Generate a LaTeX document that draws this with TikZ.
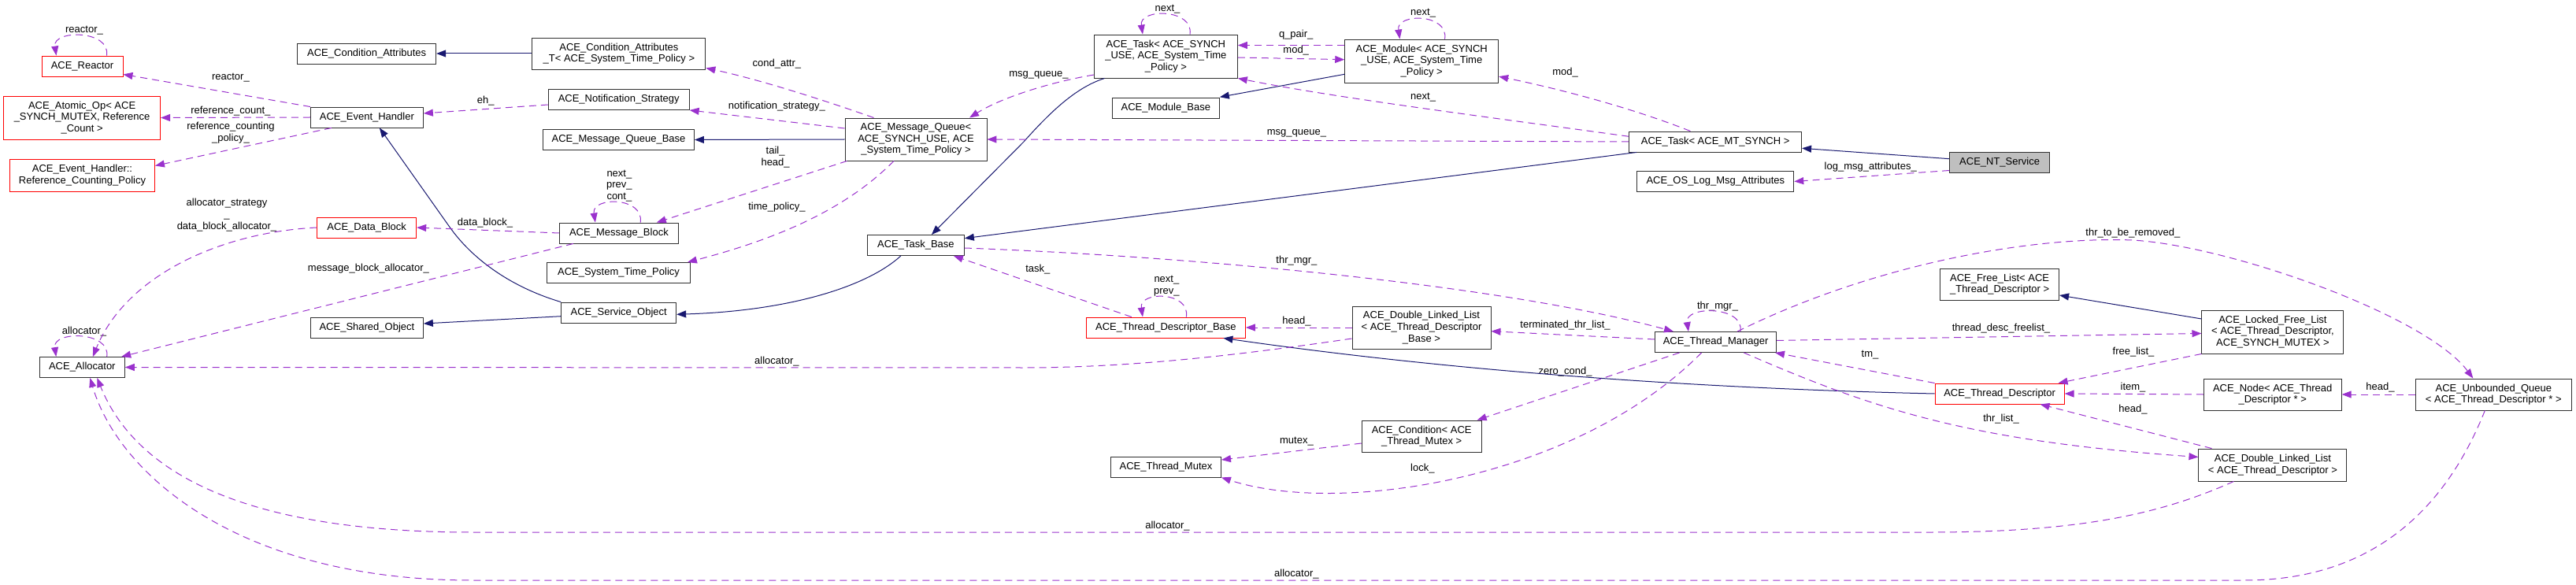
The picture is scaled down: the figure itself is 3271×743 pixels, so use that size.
\documentclass[tikz,border=0pt]{standalone}
\usepackage{fontspec}
\setmainfont{Liberation Sans}
\usepackage{tikz}
\usetikzlibrary{arrows.meta}

\definecolor{bleuherit}{HTML}{191970}
\definecolor{violetmembre}{HTML}{9A32CD}
\definecolor{rougeclasse}{HTML}{FF0000}
\definecolor{grisclasse}{HTML}{BFBFBF}
\definecolor{bordclasse}{HTML}{303030}

\begin{document}
\begin{tikzpicture}[x=1pt, y=-1pt, font=\fontsize{13}{14.7}\selectfont,
    classe/.style={draw=bordclasse, line width=0.9pt, inner xsep=2pt, inner ysep=6pt, minimum height=26pt, align=center, fill=white},
    classerouge/.style={classe, draw=rougeclasse},
    classegrise/.style={classe, fill=grisclasse},
    etiquette/.style={inner sep=0pt, align=center},
    herit/.style={draw=bleuherit, line width=1pt, -{Triangle[length=12pt, width=9pt]}},
    membre/.style={draw=violetmembre, line width=1pt, dash pattern=on 9pt off 6pt, -{Triangle[length=12pt, width=9pt]}}]
    \useasboundingbox (0,0) rectangle (3271,743);
    % Classes
    \node[classerouge, minimum width=103pt] at (104.5,84) (reactor) {ACE\_Reactor};
    \node[classerouge, minimum width=199pt, minimum height=55pt] at (104.1,149.5) (atomicop) {ACE\_Atomic\_Op< ACE\\\_SYNCH\_MUTEX, Reference\\\_Count >};
    \node[classerouge, minimum width=184pt, minimum height=41pt] at (104.5,222.5) (refpolicy) {ACE\_Event\_Handler::\\Reference\_Counting\_Policy};
    \node[classe, minimum width=176pt] at (465.7,68) (condattr) {ACE\_Condition\_Attributes};
    \node[classe, minimum width=143pt] at (465.9,149) (evhandler) {ACE\_Event\_Handler};
    \node[classerouge, minimum width=126pt] at (465.7,289) (datablock) {ACE\_Data\_Block};
    \node[classe, minimum width=108pt] at (104.3,466.5) (allocator) {ACE\_Allocator};
    \node[classe, minimum width=143pt] at (465.9,416) (sharedobj) {ACE\_Shared\_Object};
    \node[classe, minimum width=220pt, minimum height=40pt] at (785.9,68) (condattrT) {ACE\_Condition\_Attributes\\\_T< ACE\_System\_Time\_Policy >};
    \node[classe, minimum width=179pt] at (785.7,126.5) (notifstrat) {ACE\_Notification\_Strategy};
    \node[classe, minimum width=192pt] at (785.5,177.5) (mqbase) {ACE\_Message\_Queue\_Base};
    \node[classe, minimum width=151pt] at (785.9,296) (msgblock) {ACE\_Message\_Block};
    \node[classe, minimum width=182pt] at (785.5,346.5) (timepolicy) {ACE\_System\_Time\_Policy};
    \node[classe, minimum width=146pt] at (785.7,397) (serviceobj) {ACE\_Service\_Object};
    \node[classe, minimum width=180pt, minimum height=54pt] at (1163,177) (msgqueue) {ACE\_Message\_Queue<\\ACE\_SYNCH\_USE, ACE\\\_System\_Time\_Policy >};
    \node[classe, minimum width=123pt] at (1162.9,311.5) (taskbase) {ACE\_Task\_Base};
    \node[classe, minimum width=182pt, minimum height=55pt] at (1480.4,71.5) (task) {ACE\_Task< ACE\_SYNCH\\\_USE, ACE\_System\_Time\\\_Policy >};
    \node[classe, minimum width=136pt] at (1480.4,137) (modbase) {ACE\_Module\_Base};
    \node[classerouge, minimum width=202pt] at (1480.4,416) (tdbase) {ACE\_Thread\_Descriptor\_Base};
    \node[classe, minimum width=140pt] at (1480.5,593) (thrmutex) {ACE\_Thread\_Mutex};
    \node[classe, minimum width=195pt, minimum height=55pt] at (1805.2,77.5) (module) {ACE\_Module< ACE\_SYNCH\\\_USE, ACE\_System\_Time\\\_Policy >};
    \node[classe, minimum width=176pt, minimum height=54pt] at (1805,416) (dlltdbase) {ACE\_Double\_Linked\_List\\< ACE\_Thread\_Descriptor\\\_Base >};
    \node[classe, minimum width=152pt, minimum height=40pt] at (1805.2,554) (condition) {ACE\_Condition< ACE\\\_Thread\_Mutex >};
    \node[classe, minimum width=219pt] at (2178.1,180) (taskmt) {ACE\_Task< ACE\_MT\_SYNCH >};
    \node[classe, minimum width=199pt] at (2178.3,230.5) (oslog) {ACE\_OS\_Log\_Msg\_Attributes};
    \node[classe, minimum width=154pt] at (2178.6,434.5) (thrmgr) {ACE\_Thread\_Manager};
    \node[classegrise, minimum width=127pt] at (2539.1,206.5) (ntservice) {ACE\_NT\_Service};
    \node[classe, minimum width=151pt, minimum height=40pt] at (2539.1,361) (freelist) {ACE\_Free\_List< ACE\\\_Thread\_Descriptor >};
    \node[classerouge, minimum width=164pt] at (2539.1,500) (thrdesc) {ACE\_Thread\_Descriptor};
    \node[classe, minimum width=180pt, minimum height=55pt] at (2885.9,421.5) (lockedfl) {ACE\_Locked\_Free\_List\\< ACE\_Thread\_Descriptor,\\ACE\_SYNCH\_MUTEX >};
    \node[classe, minimum width=175pt, minimum height=40pt] at (2885.7,501) (tdnode) {ACE\_Node< ACE\_Thread\\\_Descriptor * >};
    \node[classe, minimum width=188pt, minimum height=41pt] at (2885.9,590.5) (dlltd) {ACE\_Double\_Linked\_List\\< ACE\_Thread\_Descriptor >};
    \node[classe, minimum width=198pt, minimum height=40pt] at (3166.3,501) (unbqueue) {ACE\_Unbounded\_Queue\\< ACE\_Thread\_Descriptor * >};
    % Etiquettes
    \node[etiquette] at (107,39) (lreactorself) {reactor\_};
    \node[etiquette] at (292.9,99) (lreactor) {reactor\_};
    \node[etiquette] at (292.9,141) (lrefcount) {reference\_count\_};
    \node[etiquette] at (292.9,168.5) (lrefpolicy) {reference\_counting\\\_policy\_};
    \node[etiquette] at (288,273) (ldballoc) {allocator\_strategy\\\_\\data\_block\_allocator\_};
    \node[etiquette] at (467.9,341) (lmballoc) {message\_block\_allocator\_};
    \node[etiquette] at (107,421) (lallocself) {allocator\_};
    \node[etiquette] at (616.8,128) (leh) {eh\_};
    \node[etiquette] at (616,283) (ldatablock) {data\_block\_};
    \node[etiquette] at (786.4,236) (lmbself) {next\_\\prev\_\\cont\_};
    \node[etiquette] at (986.4,81) (lcondattr) {cond\_attr\_};
    \node[etiquette] at (986.4,135) (lnotif) {notification\_strategy\_};
    \node[etiquette] at (984.6,199.5) (ltailhead) {tail\_\\head\_};
    \node[etiquette] at (986.4,263) (ltimepol) {time\_policy\_};
    \node[etiquette] at (986.4,459) (lalloc1) {allocator\_};
    \node[etiquette] at (1482.5,12) (ltaskself) {next\_};
    \node[etiquette] at (1318.9,95) (lmsgq1) {msg\_queue\_};
    \node[etiquette] at (1317.9,342) (ltask) {task\_};
    \node[etiquette] at (1481.4,363) (ltdself) {next\_\\prev\_};
    \node[etiquette] at (1482.5,668) (lalloc2) {allocator\_};
    \node[etiquette] at (1807.1,17) (lmodself) {next\_};
    \node[etiquette] at (1645.7,44) (lqpair) {q\_pair\_};
    \node[etiquette] at (1645.7,64) (lmod1) {mod\_};
    \node[etiquette] at (1987.5,92) (lmod2) {mod\_};
    \node[etiquette] at (1807.1,124) (lnext) {next\_};
    \node[etiquette] at (1646.4,169) (lmsgq2) {msg\_queue\_};
    \node[etiquette] at (1646.4,331) (lthrmgr) {thr\_mgr\_};
    \node[etiquette] at (1646.4,408) (lhead1) {head\_};
    \node[etiquette] at (1987.5,413) (lterm) {terminated\_thr\_list\_};
    \node[etiquette] at (1987.5,472) (lzerocond) {zero\_cond\_};
    \node[etiquette] at (1646.4,561) (lmutex) {mutex\_};
    \node[etiquette] at (1806.4,595) (llock) {lock\_};
    \node[etiquette] at (1646.4,729) (lalloc3) {allocator\_};
    \node[etiquette] at (2375.2,212) (llogmsg) {log\_msg\_attributes\_};
    \node[etiquette] at (2708.4,296) (lthrremoved) {thr\_to\_be\_removed\_};
    \node[etiquette] at (2181,389) (lthrmgrself) {thr\_mgr\_};
    \node[etiquette] at (2541,417) (lfreelistdesc) {thread\_desc\_freelist\_};
    \node[etiquette] at (2374.5,451) (ltm) {tm\_};
    \node[etiquette] at (2541,532) (lthrlist) {thr\_list\_};
    \node[etiquette] at (2709,447) (lfreelist) {free\_list\_};
    \node[etiquette] at (2708.5,492) (litem) {item\_};
    \node[etiquette] at (2708.5,520) (lhead2) {head\_};
    \node[etiquette] at (3022.4,492) (lhead3) {head\_};
    % Heritage
    \path (condattrT.west) edge[herit] (condattr.east);
    \draw[herit] (serviceobj.north west) .. controls (650,365) and (600,330) .. (570,287) -- ([xshift=16pt]evhandler.south);
    \path ([yshift=-4.7pt]serviceobj.west) edge[herit] ([yshift=5pt]sharedobj.east);
    \draw[herit] ([xshift=-19pt]taskbase.south) .. controls (1100,365) and (1000,395) .. ([yshift=-2.3pt]serviceobj.east);
    \path (msgqueue.west) edge[herit] (mqbase.east);
    \draw[herit] ([xshift=13.6pt]task.south west) .. controls (1370,110) and (1340,135) .. (1300,180) -- ([xshift=20pt]taskbase.north);
    \path ([yshift=-16.8pt]module.west) edge[herit] ([yshift=13.7pt]modbase.east);
    \path ([xshift=10pt]taskmt.south west) edge[herit] ([yshift=8.8pt]taskbase.east);
    \path ([yshift=4.8pt]ntservice.west) edge[herit] ([yshift=-8.3pt]taskmt.east);
    \draw[herit] (thrdesc.west) .. controls (2100,492) and (1800,465) .. ([xshift=-28.5pt]tdbase.south east);
    \path ([yshift=16.5pt]lockedfl.west) edge[herit] ([yshift=-14pt]freelist.east);
    % Membres
    \draw[membre] ([xshift=31pt]reactor.north) .. controls +(5,-33) and +(-5,-33) .. ([xshift=-33pt]reactor.north);
    \draw[membre] ([xshift=31.4pt]allocator.north) .. controls +(5,-33) and +(-5,-33) .. ([xshift=-33pt]allocator.north);
    \draw[membre] ([xshift=27.3pt]msgblock.north) .. controls +(5,-33) and +(-5,-33) .. ([xshift=-30pt]msgblock.north);
    \draw[membre] ([xshift=30.6pt]task.north) .. controls +(5,-33) and +(-5,-33) .. ([xshift=-29.4pt]task.north);
    \draw[membre] ([xshift=29.4pt]module.north) .. controls +(5,-33) and +(-5,-33) .. ([xshift=-27.7pt]module.north);
    \draw[membre] ([xshift=26pt]tdbase.north) .. controls +(5,-33) and +(-5,-33) .. ([xshift=-29.4pt]tdbase.north);
    \draw[membre] ([xshift=31.4pt]thrmgr.north) .. controls +(5,-33) and +(-5,-33) .. ([xshift=-34.6pt]thrmgr.north);
    \path (evhandler.north west) edge[membre] ([yshift=3pt]reactor.south east);
    \path (evhandler.west) edge[membre] (atomicop.east);
    \path ([xshift=27pt]evhandler.south west) edge[membre] ([yshift=12pt]refpolicy.east);
    \path ([yshift=-6.5pt]notifstrat.west) edge[membre] ([yshift=5pt]evhandler.east);
    \draw[membre] ([xshift=37pt]msgqueue.north west) .. controls (1040,125) and (960,100) .. ([yshift=2pt]condattrT.south east);
    \path ([yshift=14pt]msgqueue.west) edge[membre] (notifstrat.south east);
    \path ([xshift=3pt]msgqueue.south west) edge[membre] ([xshift=-28pt]msgblock.north east);
    \draw[membre] ([xshift=-28pt]msgqueue.south) .. controls (1080,260) and (1000,300) .. ([xshift=-4pt]timepolicy.north east);
    \path (msgblock.west) edge[membre] (datablock.east);
    \draw[membre] (datablock.west) .. controls (280,295) and (160,350) .. ([xshift=13.6pt]allocator.north);
    \path ([xshift=18pt]msgblock.south west) edge[membre] ([xshift=-4.6pt]allocator.north east);
    \draw[membre] ([yshift=-14pt]dlltdbase.west) .. controls (1600,447) and (1450,467) .. (1300,467) -- (allocator.east);
    \path ([xshift=-43.6pt]tdbase.north) edge[membre] ([xshift=-14pt]taskbase.south east);
    \draw[membre] ([yshift=-3.5pt]taskbase.east) .. controls (1500,325) and (1900,360) .. ([xshift=-53.6pt]thrmgr.north);
    \draw[membre] ([yshift=-23.5pt]task.west) .. controls (1330,105) and (1270,125) .. ([xshift=68pt]msgqueue.north);
    \path (taskmt.west) edge[membre] (msgqueue.east);
    \path ([yshift=-1.5pt]task.east) edge[membre] ([yshift=1.8pt]module.west);
    \path ([yshift=20pt]module.west) edge[membre] ([yshift=14pt]task.east);
    \draw[membre] ([yshift=6.7pt]taskmt.west) .. controls (1900,150) and (1700,125) .. (task.south east);
    \draw[membre] ([xshift=-31.7pt]taskmt.north) .. controls (2080,140) and (1990,115) .. ([yshift=8.3pt]module.south east);
    \path ([yshift=-10pt]ntservice.west) edge[membre] (oslog.east);
    \path ([yshift=3.5pt]thrmgr.west) edge[membre] ([yshift=-4.7pt]dlltdbase.east);
    \path ([xshift=-46pt]thrmgr.south) edge[membre] ([xshift=-6pt]condition.north east);
    \draw[membre] ([xshift=-18pt]thrmgr.south) .. controls (2000,610) and (1700,655) .. (thrmutex.south east);
    \path ([yshift=-9pt]condition.west) edge[membre] ([yshift=9pt]thrmutex.east);
    \path (dlltdbase.west) edge[membre] (tdbase.east);
    \path ([yshift=2pt]thrmgr.east) edge[membre] ([yshift=-2pt]lockedfl.west);
    \draw[membre] ([xshift=-50pt]thrmgr.north east) .. controls (2380,335) and (2580,300) .. (2708,305) .. controls (2830,312) and (3080,400) .. ([xshift=-26pt]unbqueue.north);
    \draw[membre] ([xshift=35.7pt]thrmgr.south) .. controls (2380,520) and (2500,560) .. ([yshift=10pt]dlltd.west);
    \path (thrdesc.north west) edge[membre] ([xshift=-2pt]thrmgr.south east);
    \path (lockedfl.south west) edge[membre] ([xshift=-8pt]thrdesc.north east);
    \path (tdnode.west) edge[membre] (thrdesc.east);
    \path ([xshift=17pt]dlltd.north west) edge[membre] ([xshift=-31pt]thrdesc.south east);
    \path (unbqueue.west) edge[membre] (tdnode.east);
    \draw[membre] ([xshift=-49.5pt]dlltd.south) .. controls (2750,650) and (2650,676) .. (2450,676) -- (600,676) .. controls (350,676) and (180,620) .. ([xshift=19pt]allocator.south);
    \draw[membre] ([xshift=-11pt]unbqueue.south) .. controls (3100,660) and (3000,737) .. (2850,737) -- (600,737) .. controls (300,737) and (150,600) .. ([xshift=10pt]allocator.south);
\end{tikzpicture}
\end{document}
